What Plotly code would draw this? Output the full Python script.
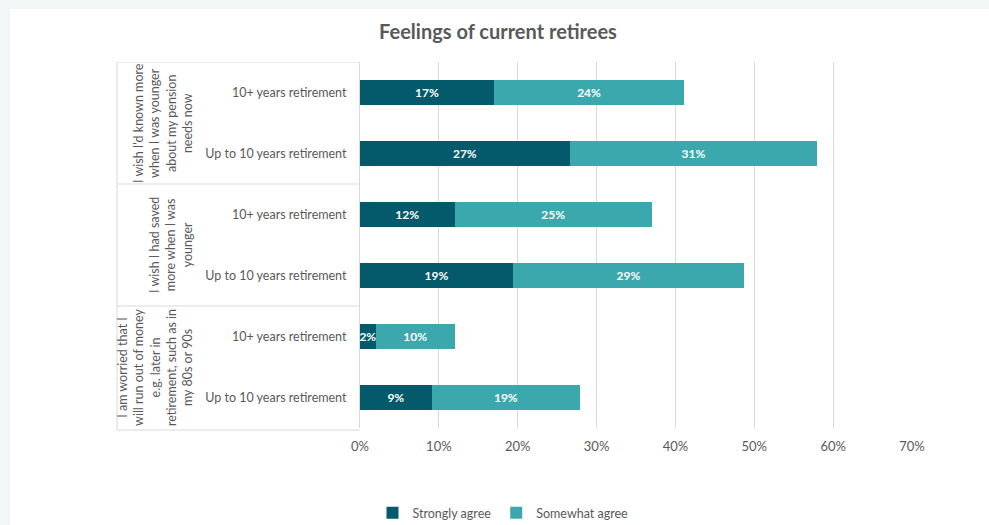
import plotly.graph_objects as go

# Survey statements (outer groups) and retirement-length segments (inner categories)
groups = [
    "I wish I'd known more<br>when I was younger<br>about my pension<br>needs now",
    "I wish I had saved<br>more when I was<br>younger",
    "I am worried that I<br>will run out of money<br>e.g. later in<br>retirement, such as in<br>my 80s or 90s",
]
segments = ["10+ years retirement", "Up to 10 years retirement"]

# Share of respondents (%) per row, top to bottom
strongly_agree = [17.0, 26.6, 12.0, 19.4, 2.0, 9.1]
somewhat_agree = [24.1, 31.4, 25.0, 29.3, 10.0, 18.8]

x_ticks = [0, 10, 20, 30, 40, 50, 60, 70]

DARK = "#045a6a"
LIGHT = "#3aa8ac"
TEXT = "#595959"
GRID = "#d9d9d9"
FONT = "Lato"

rows = [f"g{g}s{s}" for g in range(len(groups)) for s in range(len(segments))]
row_labels = [segments[s] for g in range(len(groups)) for s in range(len(segments))]

fig = go.Figure()
for name, vals, col in [("Strongly agree", strongly_agree, DARK),
                        ("Somewhat agree", somewhat_agree, LIGHT)]:
    fig.add_trace(go.Bar(
        name=name, x=vals, y=rows, orientation="h",
        marker=dict(color=col, line=dict(width=0)),
        texttemplate="%{x:.0f}%", textposition="inside",
        insidetextanchor="middle", textangle=0,
        textfont=dict(family=FONT, size=12, color="white", weight="bold"),
        cliponaxis=True,
        hovertemplate="%{x:.0f}%<extra>" + name + "</extra>",
    ))

# Plot area geometry (pixels)
W, H = 989, 525
L, R, T, B = 360, 77, 62, 97
pw, ph = W - L - R, H - T - B

def px_x(px):
    return (px - L) / pw

def px_y(py):
    return (H - B - py) / ph

shapes = []
# light frame around the white card
shapes.append(dict(type="rect", xref="paper", yref="paper",
                   x0=px_x(0), x1=px_x(W), y0=px_y(0), y1=px_y(9),
                   fillcolor="#f2f6f7", line=dict(width=0), layer="below"))
shapes.append(dict(type="rect", xref="paper", yref="paper",
                   x0=px_x(0), x1=px_x(10), y0=px_y(H), y1=px_y(0),
                   fillcolor="#f2f6f7", line=dict(width=0), layer="below"))

# category box with group separators
box_left = px_x(117)
shapes.append(dict(type="line", xref="paper", yref="paper",
                   x0=box_left, x1=box_left, y0=px_y(430), y1=1,
                   line=dict(color=GRID, width=1)))
for b in [-0.5, 1.5, 3.5]:
    shapes.append(dict(type="line", xref="paper", yref="y",
                       x0=box_left, x1=0, y0=b, y1=b,
                       line=dict(color=GRID, width=1)))
shapes.append(dict(type="line", xref="paper", yref="paper",
                   x0=box_left, x1=0, y0=px_y(430), y1=px_y(430),
                   line=dict(color=GRID, width=1)))

annotations = []
for g, text in enumerate(groups):
    annotations.append(dict(
        text=text, textangle=-90, xref="paper", yref="y",
        x=px_x(197), y=g * 2 + 0.5, xanchor="right", yanchor="middle",
        showarrow=False, align="center",
        font=dict(family=FONT, size=12.5, color=TEXT),
    ))

n_rows = len(rows)
fig.update_layout(
    width=W, height=H,
    margin=dict(l=L, r=R, t=T, b=B, autoexpand=False),
    paper_bgcolor="white", plot_bgcolor="white",
    barmode="stack", bargap=0.59,
    uniformtext=dict(minsize=12, mode="show"),
    title=dict(text="<b>Feelings of current retirees</b>",
               x=498 / W, xref="container", xanchor="center",
               y=1 - 32 / H, yref="container", yanchor="middle",
               font=dict(family=FONT, size=20, color=TEXT)),
    xaxis=dict(range=[0, 70], tickvals=x_ticks,
               ticktext=[f"{v}%" for v in x_ticks],
               showgrid=True, gridcolor=GRID, gridwidth=1,
               zeroline=False, showline=False, ticks="",
               ticklabelstandoff=9, automargin=False,
               tickfont=dict(family=FONT, size=13, color=TEXT),
               fixedrange=True),
    yaxis=dict(type="category", categoryorder="array", categoryarray=rows,
               tickvals=rows, ticktext=row_labels,
               range=[n_rows - 0.5, -0.5], autorange=False,
               showgrid=False, zeroline=False,
               showline=True, linecolor=GRID, linewidth=1, ticks="",
               ticklabelstandoff=10, automargin=False,
               tickfont=dict(family=FONT, size=12.5, color=TEXT),
               fixedrange=True),
    legend=dict(orientation="h", xref="container", x=503 / W, xanchor="center",
                yref="container", y=1 - 513 / H, yanchor="middle",
                font=dict(family=FONT, size=12.5, color=TEXT),
                itemwidth=30, traceorder="normal"),
    shapes=shapes, annotations=annotations,
    showlegend=True,
)

fig.write_html("out.html")
